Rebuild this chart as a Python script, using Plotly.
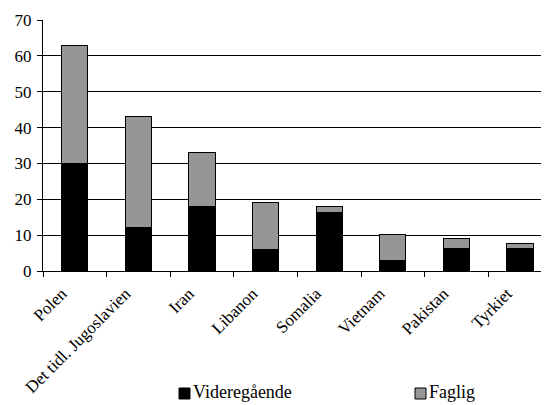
import plotly.graph_objects as go

categories = ["Polen", "Det tidl. Jugoslavien", "Iran", "Libanon", "Somalia", "Vietnam", "Pakistan", "Tyrkiet"]
videregaende = [30, 12, 18, 6, 16.3, 2.9, 6.2, 6.2]
faglig = [33, 31, 15, 13, 1.7, 7.4, 3.0, 1.4]
y_ticks = [0, 10, 20, 30, 40, 50, 60, 70]

FONT = "Liberation Serif, Times New Roman, serif"
BLACK = "#000000"
GRAY = "#969696"

OFF = 8  # page body margin in the browser
W, H = 549 - OFF, 405 - OFF
L, R, T, B = 43 - OFF, 0, 20 - OFF, 134
PW, PH = W - L - R, H - T - B

fig = go.Figure()
fig.add_trace(go.Bar(x=categories, y=videregaende, name="Videregående",
                     marker=dict(color=BLACK, line=dict(color=BLACK, width=1))))
fig.add_trace(go.Bar(x=categories, y=faglig, name="Faglig",
                     marker=dict(color=GRAY, line=dict(color=BLACK, width=1))))

fig.update_layout(
    width=W, height=H,
    margin=dict(l=L, r=R, t=T, b=B, autoexpand=False),
    barmode="stack", bargap=0.59,
    plot_bgcolor="white", paper_bgcolor="white",
    showlegend=False,
    font=dict(family=FONT, size=17, color="black"),
)
fig.update_xaxes(
    type="category", range=[-0.5, 7.456],
    showline=True, linecolor="black", linewidth=1,
    ticks="outside", tickson="boundaries", ticklen=5, tickcolor="black",
    tickangle=-45, showgrid=False, tickfont=dict(family=FONT, size=17),
    ticklabelshift=-13, ticklabelstandoff=5,
)
fig.update_yaxes(
    range=[0, 70], tickvals=y_ticks,
    showline=True, linecolor="black", linewidth=1,
    ticks="outside", ticklen=5, tickcolor="black",
    showgrid=True, gridcolor="black", gridwidth=1,
    tickfont=dict(family=FONT, size=17), ticklabelstandoff=2,
)

def px_x(p):
    return (p - OFF - L) / PW

def px_y(p):
    return (H - B - (p - OFF)) / PH

legend_items = [("Videregående", BLACK, 179), ("Faglig", GRAY, 415)]
for name, color, x0 in legend_items:
    fig.add_shape(type="rect", xref="paper", yref="paper",
                  x0=px_x(x0), x1=px_x(x0 + 11), y0=px_y(399), y1=px_y(388),
                  fillcolor=color, line=dict(color=BLACK, width=1))
    fig.add_annotation(xref="paper", yref="paper", x=px_x(x0 + 12), y=px_y(392),
                       text=name, showarrow=False, xanchor="left", yanchor="middle",
                       font=dict(family=FONT, size=18, color="black"))

fig.write_html("out.html")
